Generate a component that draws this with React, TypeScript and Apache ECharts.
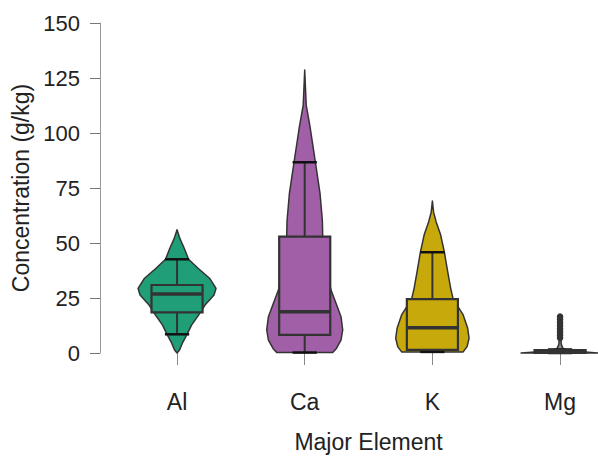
import React, { useEffect, useRef } from "react";
import * as echarts from "echarts";

const categories = ["Al", "Ca", "K", "Mg"];
const fillColors = ["#1f9e77", "#a15fa8", "#c8a90c", "#8c8c8c"];

// box-plot statistics (g/kg)
const q1 = [18.5, 8.2, 1.4, 0.1];
const medians = [26.8, 18.8, 11.5, 0.5];
const q3 = [30.9, 52.9, 24.5, 1.3];
const whiskerLow = [8.5, 0.2, 0.5, 0.0];
const whiskerHigh = [42.6, 86.7, 45.8, 1.6];
const mgOutliers = [6.9, 8.2, 9.6, 11.0, 12.4, 13.8, 15.2, 16.5];

// violin density profiles (value level, relative density)
const alLevels = [0, 1.4, 5.1, 8.5, 12.7, 17.3, 21.8, 26.4, 29.4, 34.0, 38.5, 42.6, 47.6, 52.1, 56];
const alDensity = [0, 2.5, 6, 10, 14.5, 21.7, 28, 37, 39, 32.5, 21, 11.5, 7.2, 2.8, 0];
const caLevels = [0.2, 2.1, 5.9, 10.5, 16.5, 22.6, 28.6, 35, 45, 52.9, 60, 72.6, 86.7, 102.9, 112.7, 120, 128.6];
const caDensity = [28, 31.7, 36.3, 38, 36.3, 31.3, 26.3, 23, 20, 18, 17.7, 15.3, 10.7, 5.3, 1.5, 0.8, 0];
const kLevels = [0.5, 2.9, 6.7, 11.2, 17.3, 24.5, 29.4, 37, 45.8, 53.6, 59.7, 64, 69.1];
const kDensity = [30.8, 34.7, 36.7, 35.3, 30.8, 20.8, 18.3, 15.3, 12, 8.3, 3.7, 1.2, 0];
const mgLevels = [0, 0.5, 1, 2, 4, 8, 12, 16.8, 17];
const mgDensity = [39, 25, 10, 3, 1.2, 0.6, 0.5, 0.4, 0];

const violinLevels = [alLevels, caLevels, kLevels, mgLevels];
const violinDensity = [alDensity, caDensity, kDensity, mgDensity];
const outliers = [[], [], [], mgOutliers];

const yTicks = [0, 25, 50, 75, 100, 125, 150];

const FONT = "Liberation Sans, Arial, Helvetica, sans-serif";

function renderItem(params: any, api: any) {
  const i = api.value(0);
  const band = api.size([1, 0])[0];
  const k = band / 127.7;
  const cx = api.coord([i, 0])[0];
  const y = (v: number) => api.coord([i, v])[1];
  const lv = violinLevels[i];
  const dn = violinDensity[i];
  const pts: number[][] = [];
  for (let j = 0; j < lv.length; j++) pts.push([cx + dn[j] * k, y(lv[j])]);
  for (let j = lv.length - 1; j >= 0; j--) pts.push([cx - dn[j] * k, y(lv[j])]);
  const boxHw = band * 0.2;
  const capHw = band * 0.095;
  const stroke = "#333333";
  const children: any[] = [
    {
      type: "polygon",
      shape: { points: pts },
      style: { fill: fillColors[i], stroke, lineWidth: 1.5, lineJoin: "round" },
    },
    {
      type: "line",
      shape: { x1: cx, y1: y(q3[i]), x2: cx, y2: y(whiskerHigh[i]) },
      style: { stroke, lineWidth: 2 },
    },
    {
      type: "line",
      shape: { x1: cx, y1: y(q1[i]), x2: cx, y2: y(whiskerLow[i]) },
      style: { stroke, lineWidth: 2 },
    },
    {
      type: "line",
      shape: { x1: cx - capHw, y1: y(whiskerHigh[i]), x2: cx + capHw, y2: y(whiskerHigh[i]) },
      style: { stroke: "#111", lineWidth: 2.5 },
    },
    {
      type: "line",
      shape: { x1: cx - capHw, y1: y(whiskerLow[i]), x2: cx + capHw, y2: y(whiskerLow[i]) },
      style: { stroke: "#111", lineWidth: 2.5 },
    },
    {
      type: "rect",
      shape: { x: cx - boxHw, y: y(q3[i]), width: boxHw * 2, height: y(q1[i]) - y(q3[i]) },
      style: { fill: fillColors[i], stroke, lineWidth: 2.2 },
    },
    {
      type: "line",
      shape: { x1: cx - boxHw, y1: y(medians[i]), x2: cx + boxHw, y2: y(medians[i]) },
      style: { stroke, lineWidth: 3.5 },
    },
  ];
  for (const o of outliers[i]) {
    children.push({
      type: "circle",
      shape: { cx, cy: y(o), r: 3.3 },
      style: { fill: "#333", stroke: "none" },
    });
  }
  return { type: "group", children };
}

export default function App() {
  const ref = useRef<HTMLDivElement>(null);
  useEffect(() => {
    if (!ref.current) return;
    const chart = echarts.init(ref.current, null, { renderer: "svg" });
    chart.setOption({
      animation: false,
      backgroundColor: "#ffffff",
      textStyle: { fontFamily: FONT },
      grid: { left: 113.2, right: -25.9, top: 23, bottom: 103, outerBoundsMode: "none", containLabel: false },
      xAxis: {
        type: "category",
        data: categories,
        boundaryGap: true,
        offset: 18,
        axisLine: { show: false },
        axisTick: { show: true, alignWithLabel: true, length: 12, lineStyle: { color: "#888" } },
        axisLabel: { margin: 19, fontSize: 23, color: "#222", fontFamily: FONT },
        name: "Major Element",
        nameLocation: "middle",
        nameGap: 59,
        nameTextStyle: { fontSize: 23, color: "#222", fontFamily: FONT },
      },
      yAxis: {
        type: "value",
        min: yTicks[0],
        max: yTicks[yTicks.length - 1],
        interval: yTicks[1] - yTicks[0],
        offset: 13.2,
        axisLine: { show: true, lineStyle: { color: "#999" } },
        axisTick: { show: true, length: 10, lineStyle: { color: "#777" } },
        axisLabel: { margin: 20, fontSize: 22, color: "#222", fontFamily: FONT },
        splitLine: { show: false },
        name: "Concentration (g/kg)",
        nameLocation: "middle",
        nameGap: 63,
        nameTextStyle: { fontSize: 23, color: "#222", fontFamily: FONT },
      },
      series: [
        {
          type: "custom",
          renderItem,
          clip: false,
          data: categories.map((c, i) => [i, medians[i]]),
          encode: { x: 0, y: 1 },
        },
      ],
    });
    return () => chart.dispose();
  }, []);
  return (
    <div
      ref={ref}
      style={{ position: "absolute", left: 0, top: 0, width: 598, height: 456 }}
    />
  );
}
